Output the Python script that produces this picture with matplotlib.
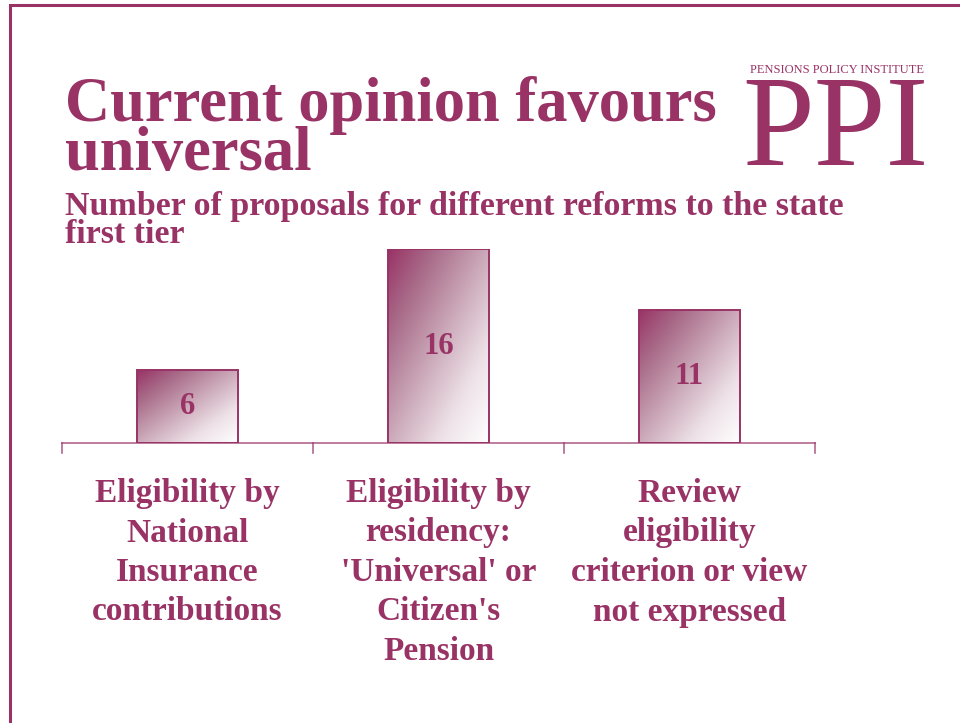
import numpy as np
import matplotlib
matplotlib.use("Agg")
import matplotlib.pyplot as plt
from matplotlib.colors import LinearSegmentedColormap
from matplotlib.lines import Line2D
from matplotlib.transforms import Affine2D

# Data
categories = [
    "Eligibility by\nNational\nInsurance\ncontributions",
    "Eligibility by\nresidency:\n'Universal' or\nCitizen's\nPension",
    "Review\neligibility\ncriterion or view\nnot expressed",
]
proposals = [6, 16, 11]

title = "Current opinion favours\nuniversal"
subtitle = "Number of proposals for different reforms to the state\nfirst tier"

PLUM = "#993366"
W, H = 960, 723
SERIF = "Liberation Serif"

fig = plt.figure(figsize=(W / 100, H / 100), dpi=100)
fig.patch.set_facecolor("white")

# pixel coordinates measured from the top-left corner
px = Affine2D().scale(1, -1).translate(0, H)


def ptext(x, y, s, **kw):
    kw.setdefault("family", SERIF)
    kw.setdefault("color", PLUM)
    return fig.text(x, y, s, transform=px, **kw)


# slide frame
fig.add_artist(Line2D([10, 10, W + 5], [H + 5, 5, 5], transform=px,
                      color=PLUM, lw=2.2, solid_joinstyle="miter"))

# title and subtitle (tight line spacing, anchored at the last line's baseline)
ptext(65, 170, title, fontsize=45, weight="bold", va="baseline",
      linespacing=0.8)
ptext(65, 243, subtitle, fontsize=24.5, weight="bold", va="baseline",
      linespacing=0.88)

# logo
ptext(837, 73, "PENSIONS POLICY INSTITUTE", fontsize=9, ha="center", va="baseline")
ptext(835, 165, "PPI", fontsize=93, ha="center", va="baseline")

# bar axes
ax_left, ax_right, ax_base, ax_top = 62, 815, 443, 249
ax = fig.add_axes([ax_left / W, (H - ax_base) / H,
                   (ax_right - ax_left) / W, (ax_base - ax_top) / H])
ax.set_xlim(-0.5, len(categories) - 0.5)
ax.set_ylim(0, 16)
ax.axis("off")

grad_cmap = LinearSegmentedColormap.from_list(
    "plum_fade",
    [(0.0, "#993366"), (0.22, "#A86A88"), (0.5, "#CCAABA"),
     (0.75, "#EDE1E7"), (1.0, "#FFFFFF")])

xs = np.arange(len(categories))
bars = ax.bar(xs, proposals, width=0.4, facecolor="none", edgecolor=PLUM,
              linewidth=1.4, zorder=3)

u = np.linspace(0, 1, 200)
gu, gw = np.meshgrid(u, u)
grad = (gu + gw) / 2.0
for rect in bars:
    x0, y0 = rect.get_x(), rect.get_y()
    w, h = rect.get_width(), rect.get_height()
    im = ax.imshow(grad, cmap=grad_cmap, vmin=0, vmax=1, origin="upper",
                   extent=[x0, x0 + w, y0, y0 + h], aspect="auto",
                   interpolation="bilinear", zorder=2)
    im.set_clip_path(rect)

for x, v in zip(xs, proposals):
    ax.text(x, v / 2, f"{v}", ha="center", va="center", family=SERIF,
            weight="bold", fontsize=22, color=PLUM, zorder=4)

# category axis with ticks between groups
ax.plot([-0.5, len(categories) - 0.5], [0, 0], color=PLUM, lw=1.2, alpha=0.75,
        clip_on=False, zorder=4)
fig.canvas.draw()
for b in np.arange(-0.5, len(categories), 1.0):
    bx = ax.transData.transform((b, 0))[0]
    fig.add_artist(Line2D([bx, bx], [ax_base, ax_base + 10], transform=px,
                          color=PLUM, lw=1.2, alpha=0.75))

# category labels, one line at a time
for x, label in zip(xs, categories):
    cx = ax.transData.transform((x, 0))[0]
    for i, line in enumerate(label.split("\n")):
        ptext(cx, 502 + i * 39.5, line, fontsize=24, weight="bold",
              ha="center", va="baseline")

fig.savefig("out.png", dpi=100)
